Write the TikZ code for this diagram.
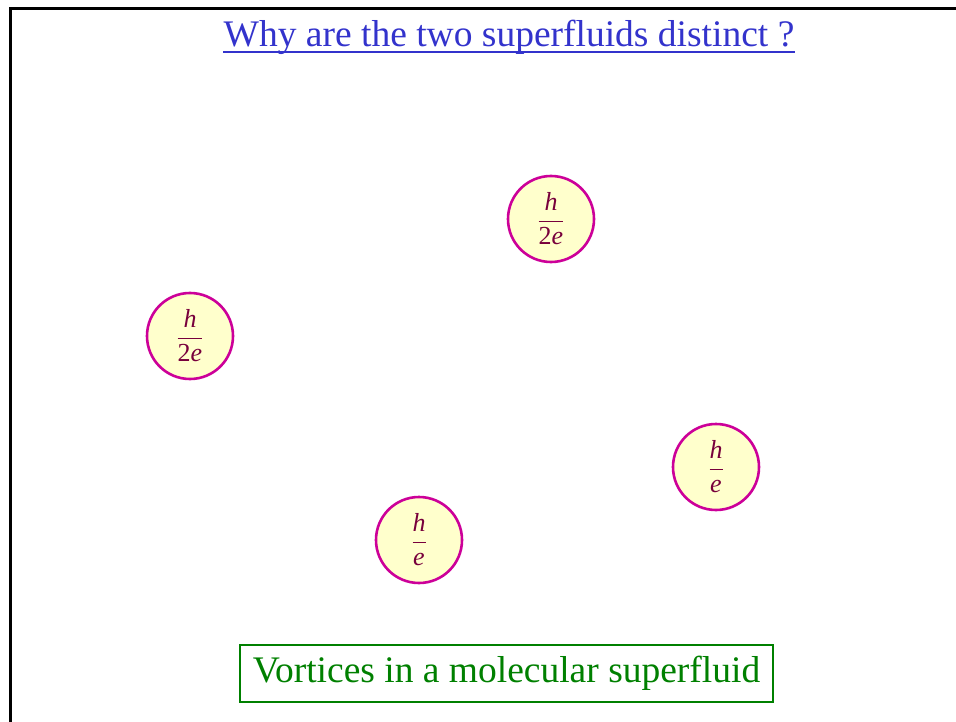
\documentclass[tikz,border=0pt]{standalone}
\usepackage{amsmath}
\usepackage{fontspec}
\setmainfont{Liberation Serif}
\usetikzlibrary{positioning}
\definecolor{titleblue}{RGB}{51,51,204}
\definecolor{vortexrim}{RGB}{204,0,153}
\definecolor{vortexfill}{RGB}{255,255,204}
\definecolor{quantum}{RGB}{120,0,60}
\definecolor{capgreen}{RGB}{0,128,0}
\newcommand{\flux}[2]{$\dfrac{\text{\itshape #1}}{\text{#2}}$}
\tikzset{
  vortex/.style={circle,draw=vortexrim,line width=2.6pt,fill=vortexfill,
    minimum size=86pt,inner sep=0pt,text=quantum,
    font=\fontsize{26}{28}\selectfont},
  slidetitle/.style={text=titleblue,inner sep=0pt,
    font=\fontsize{37.5}{40}\selectfont},
  capbox/.style={draw=capgreen,line width=2.8pt,text=capgreen,
    minimum width=533pt,minimum height=57pt,inner sep=0pt,
    font=\fontsize{37.5}{40}\selectfont},
}
\begin{document}
\begin{tikzpicture}[x=1pt,y=-1pt]
\useasboundingbox (0,0) rectangle (956,722);

%% ── frame ────────────────────────────────────────────────────────────────
\draw[line width=3pt] (956,9) -- (10.5,9) -- (10.5,722);

%% ── title ────────────────────────────────────────────────────────────────
\node[slidetitle,anchor=base] (title) at (509,47) {Why are the two superfluids distinct ?};
\draw[titleblue,line width=1.8pt] ([yshift=-5pt]title.base west) -- ([yshift=-5pt]title.base east);

%% ── vortices ─────────────────────────────────────────────────────────────
\node[vortex] (v1) at (551,219) {\flux{h}{2\textit{e}}};
\node[vortex] (v2) at (190,336) {\flux{h}{2\textit{e}}};
\node[vortex] (v3) at (716,467) {\flux{h}{\textit{e}}};
\node[vortex] (v4) at (419,540) {\flux{h}{\textit{e}}};

%% ── caption ──────────────────────────────────────────────────────────────
\node[capbox] (cap) at (506.5,673.5) {Vortices in a molecular superfluid};

\end{tikzpicture}
\end{document}
